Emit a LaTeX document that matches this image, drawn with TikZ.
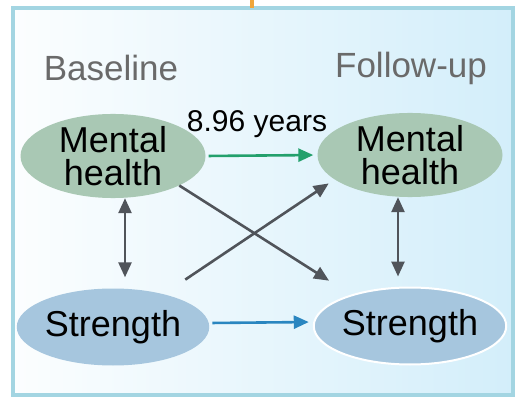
\documentclass[tikz,border=0pt]{standalone}
\usepackage{fontspec}
\setmainfont{Liberation Sans}
\usepackage{tikz}
\usetikzlibrary{shapes.geometric, arrows.meta, positioning}
\definecolor{framecol}{HTML}{A3D5E2}
\definecolor{skyblue}{HTML}{D3EEFA}
\definecolor{mhgreen}{HTML}{A9C8B4}
\definecolor{stblue}{HTML}{A6C6DE}
\definecolor{labelgray}{HTML}{6A6A6A}
\definecolor{arrowgray}{HTML}{50545A}
\definecolor{yearsgreen}{HTML}{23A06C}
\definecolor{yearsblue}{HTML}{2A86C0}
\definecolor{stemorange}{HTML}{F0A63A}

\begin{document}
\begin{tikzpicture}[x=1pt, y=-1pt,
    mhnode/.style={ellipse, fill=mhgreen, minimum width=185pt, minimum height=80pt, inner sep=0pt, align=center, font=\fontsize{36}{33}\selectfont},
    stnode/.style={ellipse, fill=stblue, minimum width=185pt, minimum height=77pt, inner sep=0pt, font=\fontsize{36}{33}\selectfont},
    phase/.style={text=labelgray, font=\fontsize{35}{40}\selectfont},
    tip/.style={-{Triangle[length=15pt, width=13pt]}},
    link/.style={tip, line width=2.6pt, draw=arrowgray},
    both/.style={{Triangle[length=15pt, width=13pt]}-{Triangle[length=15pt, width=13pt]}, line width=2.6pt, draw=arrowgray}]
    \useasboundingbox (0,0) rectangle (522,406);
    % Draw panel
    \shade[left color=white!92!skyblue, right color=skyblue] (13,8) rectangle (513,395);
    \draw[framecol, line width=4pt] (13,8) rectangle (513,395);
    \coordinate (stemtop) at (252,0);
    \coordinate (stembot) at (252,8);
    \draw[stemorange, line width=4pt] (stemtop) -- (stembot);
    % Column titles
    \node[phase] (base) at (111,68) {Baseline};
    \node[phase] (follow) at (411,68) {Follow-up};
    % Ellipses
    \node[mhnode] (mhA) at (113,156) {Mental\\health};
    \node[mhnode] (mhB) at (410,155) {Mental\\health};
    \node[stnode] (stA) at (113,327) {Strength};
    \node[stnode, draw=white, line width=2pt] (stB) at (410,326) {Strength};
    % Time arrows
    \draw[tip, yearsgreen, line width=2.6pt, shorten <=3pt, shorten >=4pt] (mhA.east) -- (mhB.west);
    \node[font=\fontsize{30}{34}\selectfont] (yrs) at (257,124) {8.96 years};
    \draw[tip, yearsblue, line width=2.6pt, shorten <=3pt, shorten >=4pt] ([yshift=4pt]stA.east) -- ([yshift=4pt]stB.west);
    % Cross-sectional links
    \draw[both, shorten >=11pt] ([xshift=12pt]mhA.south) -- ([xshift=12pt]stA.north);
    \draw[both, shorten >=10pt] ([xshift=-12pt]mhB.south) -- ([xshift=-12pt]stB.north);
    % Cross-lagged links
    \draw[link, shorten >=26pt] (mhA.-24) -- (stB.152);
    \draw[link, shorten <=26pt, shorten >=7pt] (stA.33) -- (mhB.198);
\end{tikzpicture}
\end{document}
